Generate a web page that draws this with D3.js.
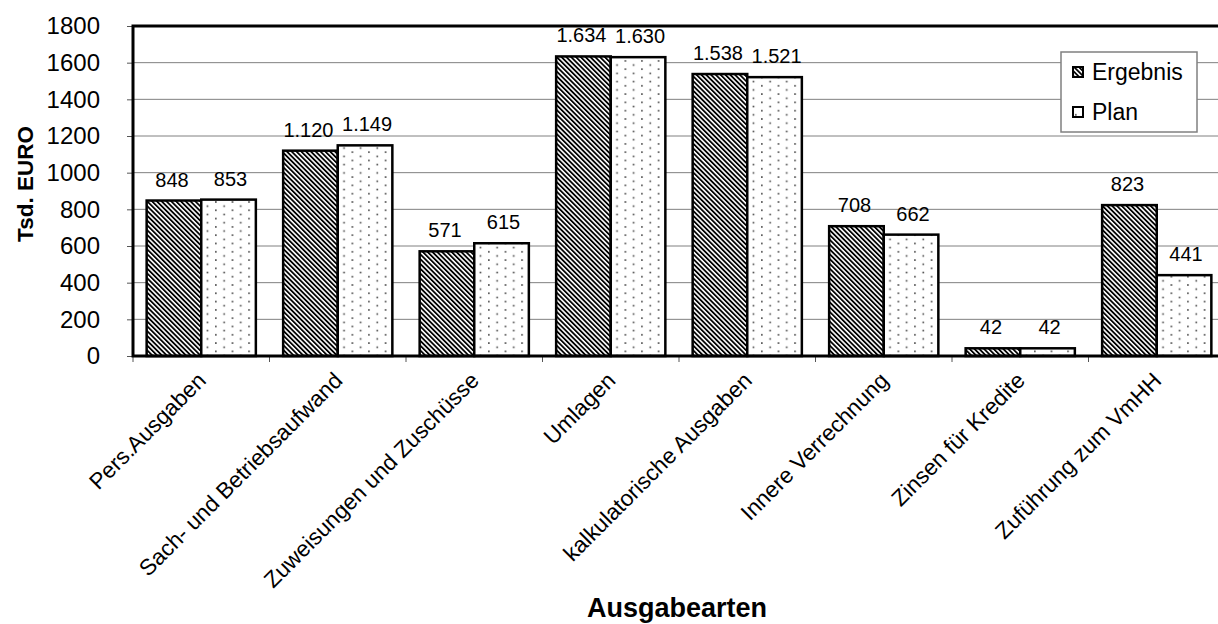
<!DOCTYPE html>
<html lang="de">
<head>
<meta charset="UTF-8">
<title>Ausgabearten</title>
<script src="https://cdn.jsdelivr.net/npm/d3@7"></script>
<style>
  body { margin: 0; background: #fff; }
  svg { display: block; font-family: "Liberation Sans", Arial, sans-serif; }
  .grid line { stroke: #808080; stroke-width: 1; }
  .bar { stroke: #000; stroke-width: 2.5; }
</style>
</head>
<body>
<svg width="1218" height="624"></svg>
<script>
// data
const categories = ["Pers.Ausgaben", "Sach- und Betriebsaufwand", "Zuweisungen und Zuschüsse",
  "Umlagen", "kalkulatorische Ausgaben", "Innere Verrechnung", "Zinsen für Kredite", "Zuführung zum VmHH"];
const ergebnis = [848, 1120, 571, 1634, 1538, 708, 42, 823];
const plan = [853, 1149, 615, 1630, 1521, 662, 42, 441];
const seriesNames = ["Ergebnis", "Plan"];
const yTicks = [0, 200, 400, 600, 800, 1000, 1200, 1400, 1600, 1800];

const svg = d3.select("svg");
const plotLeft = 133, plotRight = 1225, plotTop = 26, plotBottom = 356;

const de = d3.formatLocale({ decimal: ",", thousands: ".", grouping: [3], currency: ["", " €"] });
const fmt = de.format(",d");

// patterns
const defs = svg.append("defs");
const hatch = defs.append("pattern").attr("id", "hatch")
  .attr("patternUnits", "userSpaceOnUse").attr("width", 3.4).attr("height", 3.4)
  .attr("patternTransform", "rotate(-45)");
hatch.append("rect").attr("width", 3.4).attr("height", 3.4).attr("fill", "#fff");
hatch.append("rect").attr("width", 1.8).attr("height", 3.4).attr("fill", "#000");

const dots = defs.append("pattern").attr("id", "dots")
  .attr("patternUnits", "userSpaceOnUse").attr("width", 16.6).attr("height", 8.3);
dots.append("rect").attr("width", 16.6).attr("height", 8.3).attr("fill", "#fff");
dots.append("rect").attr("x", 2).attr("y", 2).attr("width", 1.6).attr("height", 1.6).attr("fill", "#444");
dots.append("rect").attr("x", 10.3).attr("y", 6.15).attr("width", 1.6).attr("height", 1.6).attr("fill", "#444");

const fills = ["url(#hatch)", "url(#dots)"];

const x0 = d3.scaleBand().domain(categories).range([plotLeft, plotRight])
  .paddingInner(0.2).paddingOuter(0.1);
const x1 = d3.scaleBand().domain(seriesNames).range([0, x0.bandwidth()]);
const y = d3.scaleLinear().domain([0, 1800]).range([plotBottom, plotTop]);

// gridlines
svg.append("g").attr("class", "grid")
  .selectAll("line").data(yTicks.slice(1)).join("line")
  .attr("x1", plotLeft).attr("x2", plotRight)
  .attr("y1", d => y(d)).attr("y2", d => y(d));

// y axis
const yAxis = svg.append("g").attr("transform", `translate(${plotLeft},0)`)
  .call(d3.axisLeft(y).tickValues(yTicks).tickSize(6).tickPadding(27).tickFormat(d3.format("d")));
yAxis.select(".domain").remove();
yAxis.selectAll(".tick line").attr("stroke", "#555");
yAxis.selectAll(".tick text").attr("font-size", 24).attr("fill", "#000")
  .attr("font-family", "Liberation Sans, Arial, sans-serif");

// x axis ticks at category boundaries
const step = x0.step();
const bounds = d3.range(categories.length + 1).map(i => plotLeft + i * step);
svg.append("g").selectAll("line").data(bounds).join("line")
  .attr("x1", d => d).attr("x2", d => d)
  .attr("y1", plotBottom).attr("y2", plotBottom + 6)
  .attr("stroke", "#555");

// bars
const rows = categories.map((c, i) => ({ cat: c, vals: [ergebnis[i], plan[i]] }));
const groups = svg.append("g").selectAll("g").data(rows).join("g")
  .attr("transform", d => `translate(${x0(d.cat)},0)`);

groups.selectAll("rect").data(d => d.vals.map((v, j) => ({ v, j }))).join("rect")
  .attr("class", "bar")
  .attr("x", d => x1(seriesNames[d.j]))
  .attr("width", x1.bandwidth())
  .attr("y", d => y(d.v))
  .attr("height", d => plotBottom - y(d.v))
  .attr("fill", d => fills[d.j]);

groups.selectAll("text").data(d => d.vals.map((v, j) => ({ v, j }))).join("text")
  .attr("x", d => x1(seriesNames[d.j]) + x1.bandwidth() / 2 + (d.j === 0 ? -2 : 2))
  .attr("y", d => y(d.v) - 14)
  .attr("text-anchor", "middle")
  .attr("font-size", 20)
  .text(d => fmt(d.v));

// plot frame
svg.append("rect").attr("x", plotLeft).attr("y", plotTop)
  .attr("width", plotRight - plotLeft).attr("height", plotBottom - plotTop)
  .attr("fill", "none").attr("stroke", "#000").attr("stroke-width", 3);

// category labels
svg.append("g").selectAll("text").data(categories).join("text")
  .attr("transform", d => `translate(${x0(d) + x0.bandwidth() / 2 + 6},382) rotate(-45)`)
  .attr("text-anchor", "end")
  .attr("font-size", 22.5)
  .text(d => d);

// axis titles
svg.append("text").attr("x", 677).attr("y", 617)
  .attr("text-anchor", "middle").attr("font-size", 27).attr("font-weight", "bold")
  .text("Ausgabearten");
svg.append("text").attr("transform", "translate(33,184) rotate(-90)")
  .attr("text-anchor", "middle").attr("font-size", 22.5).attr("font-weight", "bold")
  .text("Tsd. EURO");

// legend
const lg = svg.append("g").attr("transform", "translate(1061,52)");
lg.append("rect").attr("width", 136).attr("height", 80)
  .attr("fill", "#fff").attr("stroke", "#808080").attr("stroke-width", 1.5);
const li = lg.selectAll("g").data(seriesNames).join("g")
  .attr("transform", (d, i) => `translate(12,${20 + i * 40})`);
li.append("rect").attr("x", 0).attr("y", -5).attr("width", 10).attr("height", 10)
  .attr("fill", (d, i) => fills[i]).attr("stroke", "#000").attr("stroke-width", 2);
li.append("text").attr("x", 19).attr("y", 8).attr("font-size", 23).text(d => d);
</script>
</body>
</html>
